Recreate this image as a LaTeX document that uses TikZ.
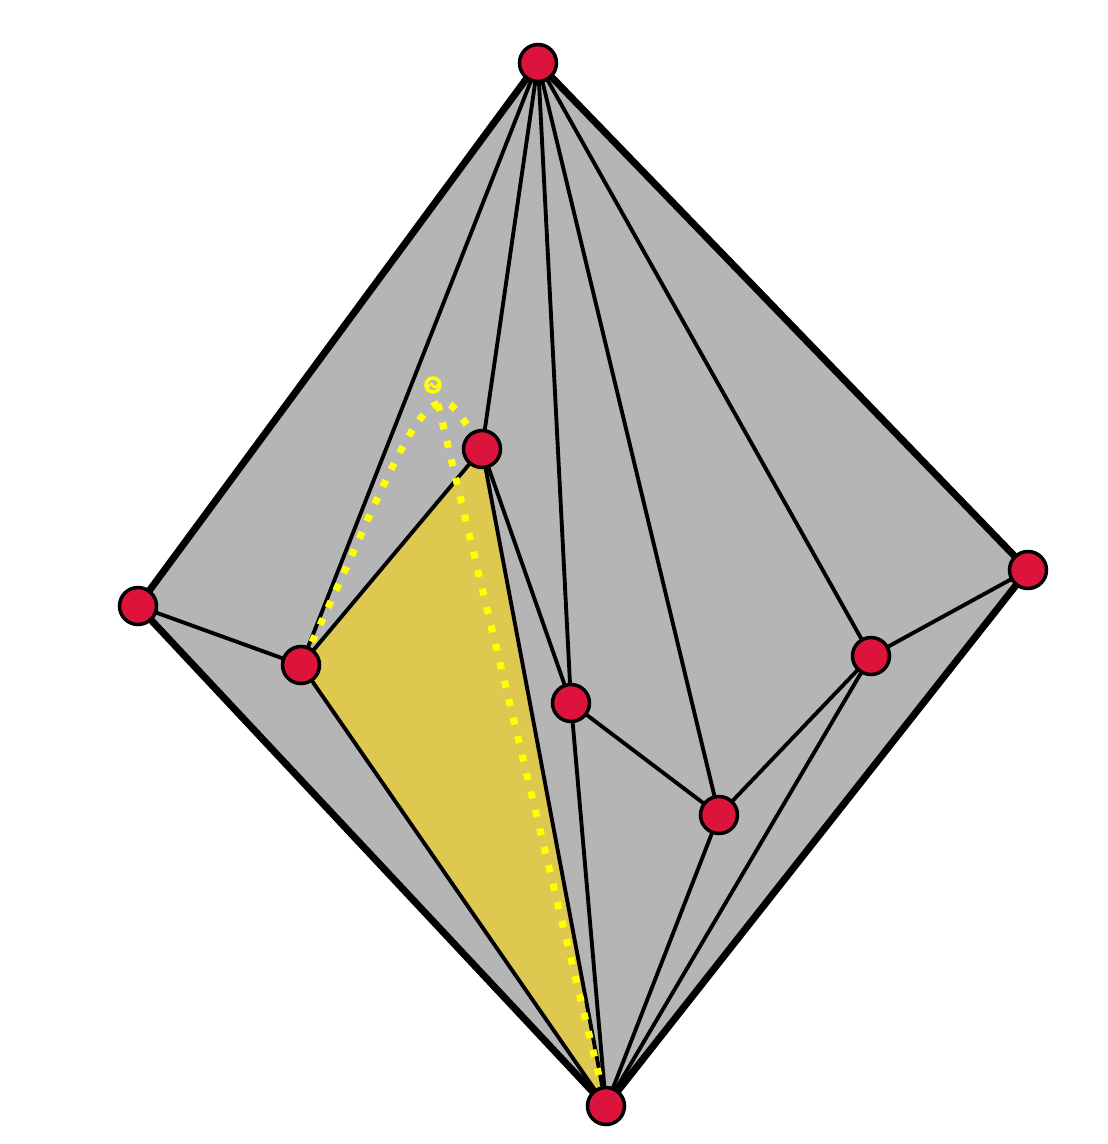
\documentclass[tikz,border=0pt]{standalone}
\definecolor{graybg}{HTML}{B5B5B5}
\definecolor{vred}{HTML}{DC143C}
\definecolor{facey}{HTML}{DEC850}
\definecolor{doty}{HTML}{FFFF00}
\begin{document}
\begin{tikzpicture}[x=0.02cm,y=-0.02cm,
  vert/.style={circle,draw=black,fill=vred,line width=2pt,minimum size=0.74cm,inner sep=0pt},
  outer/.style={line width=4pt,line join=round},
  inner/.style={line width=2.2pt},
  yd/.style={doty,line width=4pt,dash pattern=on 4pt off 6.8pt}]
\useasboundingbox (0,0) rectangle (1108,1144);
\coordinate (T) at (538,63);
\coordinate (L) at (138,606);
\coordinate (R) at (1028,570);
\coordinate (B) at (606,1106);
\coordinate (A) at (301,665);
\coordinate (C) at (482,449);
\coordinate (D) at (571,703);
\coordinate (E) at (719,815);
\coordinate (F) at (871,656);
\coordinate (P) at (438,404);
\fill[graybg] (T) -- (L) -- (B) -- (R) -- cycle;
\fill[facey] (A) -- (C) -- (B) -- cycle;
\foreach \u/\v in {T/A,T/C,T/D,T/E,T/F,L/A,A/C,A/B,C/D,C/B,D/B,D/E,E/F,E/B,F/R,F/B}
  \draw[inner] (\u) -- (\v);
\draw[outer] (T) -- (L) -- (B) -- (R) -- cycle;
\draw[yd] (312,642) .. controls (370,520) and (410,410) .. (P) .. controls (450,398) and (458,410) .. (C);
\draw[yd] (P) -- (600,1080);
\draw[doty,line width=2pt] (433,385) circle (7);
\draw[doty,line width=1.2pt] (428,388) .. controls (430,383) and (432,383) .. (433,386) .. controls (435,389) and (437,386) .. (438,384);
\foreach \n in {T,L,R,B,A,C,D,E,F}
  \node[vert] (n\n) at (\n) {};
\end{tikzpicture}
\end{document}
